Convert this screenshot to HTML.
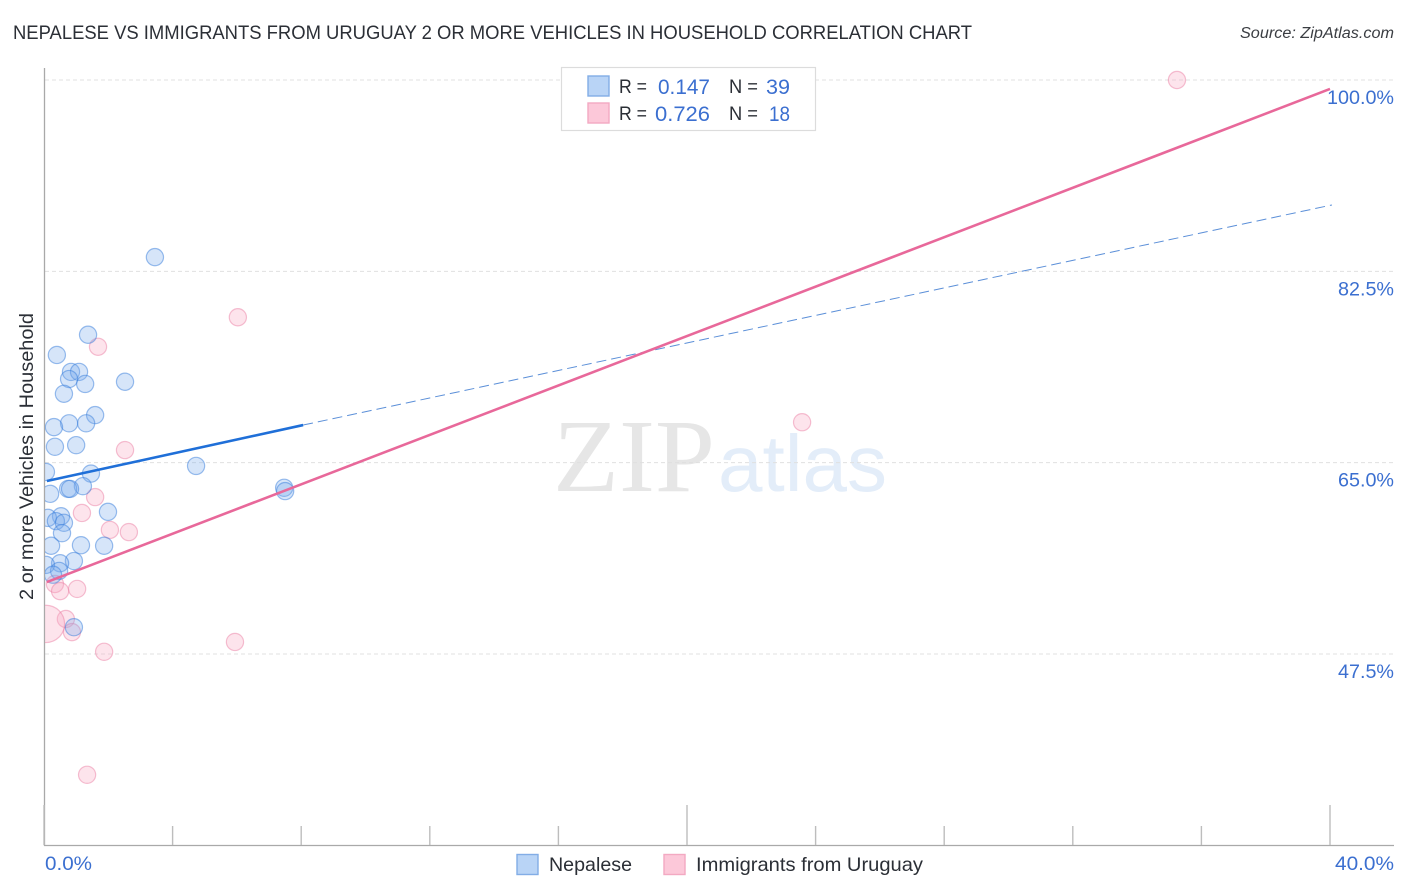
<!DOCTYPE html>
<html lang="en">
<head>
<meta charset="utf-8">
<title>Nepalese vs Immigrants from Uruguay correlation chart</title>
<style>
html,body{margin:0;padding:0;background:#fff;width:1406px;height:892px;overflow:hidden}
svg{display:block;font-family:"Liberation Sans",sans-serif}
</style>
</head>
<body>
<svg id="chart" xmlns="http://www.w3.org/2000/svg" width="1406" height="892" viewBox="0 0 1406 892">
  <defs><clipPath id="plot-clip"><rect x="45" y="60" width="1349" height="785"/></clipPath></defs>
  <text x="13" y="39" font-size="19.5" fill="#2b2f36" textLength="959" lengthAdjust="spacingAndGlyphs">NEPALESE VS IMMIGRANTS FROM URUGUAY 2 OR MORE VEHICLES IN HOUSEHOLD CORRELATION CHART</text>
  <text x="1394" y="38" font-size="15.5" font-style="italic" fill="#3a3d42" text-anchor="end" textLength="154" lengthAdjust="spacingAndGlyphs">Source: ZipAtlas.com</text>
  <g>
    <text x="553" y="491" font-family="'Liberation Serif',serif" font-size="104" fill="#e6e6e6" textLength="162" lengthAdjust="spacingAndGlyphs">ZIP</text>
    <text x="718" y="491" font-family="'Liberation Sans',sans-serif" font-size="80" fill="#e3edf9" textLength="169" lengthAdjust="spacingAndGlyphs">atlas</text>
  </g>
  <g id="grid"></g>
  <g id="axes"></g>
  <g id="points" clip-path="url(#plot-clip)"></g>
  <g id="trends"></g>
  <g id="ticks"></g>
  <g>
    <rect x="561.5" y="67.5" width="254" height="63" fill="#fff" stroke="#dcdcdc" stroke-width="1.2"/>
    <rect x="588" y="76" width="21" height="20" fill="#b9d4f6" stroke="#82ade6" stroke-width="1.4"/>
    <rect x="588" y="103" width="21" height="20" fill="#fcc8d9" stroke="#f3a9c2" stroke-width="1.4"/>
    <g font-size="19.5" fill="#2b2f36">
      <text x="619" y="93" textLength="28" lengthAdjust="spacingAndGlyphs">R =</text>
      <text x="729" y="93" textLength="29" lengthAdjust="spacingAndGlyphs">N =</text>
      <text x="619" y="120" textLength="28" lengthAdjust="spacingAndGlyphs">R =</text>
      <text x="729" y="120" textLength="29" lengthAdjust="spacingAndGlyphs">N =</text>
    </g>
    <g font-size="21" fill="#3b6fd0" text-anchor="end">
      <text x="710" y="94" textLength="52" lengthAdjust="spacingAndGlyphs">0.147</text>
      <text x="790" y="94" textLength="24" lengthAdjust="spacingAndGlyphs">39</text>
      <text x="710" y="121" textLength="55" lengthAdjust="spacingAndGlyphs">0.726</text>
      <text x="790" y="121" textLength="21" lengthAdjust="spacingAndGlyphs">18</text>
    </g>
  </g>
  <g>
    <rect x="517" y="854.5" width="21" height="20" fill="#b9d4f6" stroke="#82ade6" stroke-width="1.4"/>
    <text x="549" y="871" font-size="19.5" fill="#2b2f36" textLength="83" lengthAdjust="spacingAndGlyphs">Nepalese</text>
    <rect x="664" y="854.5" width="21" height="20" fill="#fcc8d9" stroke="#f3a9c2" stroke-width="1.4"/>
    <text x="696" y="871" font-size="19.5" fill="#2b2f36" textLength="227" lengthAdjust="spacingAndGlyphs">Immigrants from Uruguay</text>
  </g>
  <text transform="translate(33,456.5) rotate(-90)" font-size="19.5" fill="#2b2f36" text-anchor="middle" textLength="287" lengthAdjust="spacingAndGlyphs">2 or more Vehicles in Household</text>
</svg>
<script>
const blueX = [3.45,1.37,0.40,0.84,1.09,0.78,1.28,0.62,2.52,1.59,1.31,0.78,0.31,0.34,1.00,4.73,0.06,1.46,1.21,0.75,0.81,0.19,1.99,0.53,0.12,0.37,0.62,0.56,0.22,1.15,1.87,0.93,0.50,0.06,0.47,0.28,0.93,7.47,7.50];
const blueY = [83.8,76.7,74.85,73.3,73.3,72.65,72.2,71.3,72.4,69.35,68.6,68.6,68.25,66.45,66.6,64.7,64.15,64.0,62.85,62.6,62.6,62.15,60.5,60.1,59.95,59.65,59.5,58.55,57.4,57.45,57.4,56.0,55.8,55.65,55.1,54.75,49.95,62.7,62.4];
const pinkX = [35.24,6.03,1.68,23.58,2.52,1.59,1.18,2.05,2.64,0.34,0.50,1.03,0.68,0.87,5.94,1.87,1.34,0.06];
const pinkY = [100,78.3,75.6,68.7,66.15,61.85,60.4,58.85,58.65,53.9,53.25,53.45,50.7,49.5,48.6,47.7,36.45,50.25];
const pinkWeight = [1,1,1,1,1,1,1,1,1,1,1,1,1,1,1,1,1,4.7];
const blueTrendX = [0.09,8.06,40.06];
const blueTrendY = [63.32,68.44,88.57];
const pinkTrendX = [0.09,40];
const pinkTrendY = [54.08,99.18];
const yTicks = [100,82.5,65,47.5];
const yTickLabels = ["100.0%","82.5%","65.0%","47.5%"];
const xTicks = [0,4,8,12,16,20,24,28,32,36,40];
const xMajorTicks = [0,20,40];
const xEndTicks = [0,40];
const xEndLabels = ["0.0%","40.0%"];

const NS = "http://www.w3.org/2000/svg";
const sx = v => 44 + v * 32.15;
const sy = v => 80 + (100 - v) * 10.933;
function mk(parent, tag, attrs, text) {
  const el = document.createElementNS(NS, tag);
  for (const k in attrs) el.setAttribute(k, attrs[k]);
  if (text !== undefined) el.textContent = text;
  document.getElementById(parent).appendChild(el);
  return el;
}

yTicks.forEach((t, i) => {
  const g = mk("grid", "line", {x1: 45, x2: 1394, y1: sy(t), y2: sy(t), stroke: "#e0e0e0", "stroke-width": 1, "stroke-dasharray": "4 3"});
  
  
  const l = mk("ticks", "text", {x: 1394, y: sy(t) + 24, "font-size": 19.5, fill: "#3b6fd0", "text-anchor": "end", textLength: yTickLabels[i].length * 11 + 1, lengthAdjust: "spacingAndGlyphs"}, yTickLabels[i]);
  
  
});

const yAxis = mk("axes", "line", {x1: 44.5, x2: 44.5, y1: 68, y2: 846, stroke: "#a9a9a9", "stroke-width": 1.3});


const xAxis = mk("axes", "line", {x1: 44, x2: 1394, y1: 845.5, y2: 845.5, stroke: "#a9a9a9", "stroke-width": 1.3});


xTicks.forEach(t => {
  const top = xMajorTicks.includes(t) ? 805 : 826;
  const k = mk("axes", "line", {x1: sx(t), x2: sx(t), y1: top, y2: 845, stroke: "#bdbdbd", "stroke-width": 1.4});
  
  
});
xEndTicks.forEach((t, i) => {
  const l = mk("ticks", "text", {x: i === 0 ? sx(t) + 1 : 1394, y: 870, "font-size": 19.5, fill: "#3b6fd0", "text-anchor": i === 0 ? "start" : "end", textLength: i === 0 ? 47 : 59, lengthAdjust: "spacingAndGlyphs"}, xEndLabels[i]);
  
  
});

pinkX.forEach((x, i) => {
  const c = mk("points", "circle", {cx: sx(x), cy: sy(pinkY[i]), r: 8.6 * Math.sqrt(pinkWeight[i]), fill: "rgba(248,170,196,0.32)", stroke: "rgba(236,130,165,0.5)", "stroke-width": 1.2});
  
  
});
blueX.forEach((x, i) => {
  const c = mk("points", "circle", {cx: sx(x), cy: sy(blueY[i]), r: 8.6, fill: "rgba(120,170,235,0.3)", stroke: "rgba(55,125,220,0.5)", "stroke-width": 1.2});
  
  
});

const blueDash = mk("trends", "line", {x1: sx(blueTrendX[1]), y1: sy(blueTrendY[1]), x2: sx(blueTrendX[2]), y2: sy(blueTrendY[2]), stroke: "#5b8fd8", "stroke-width": 1, "stroke-dasharray": "10 5"});


const blueSolid = mk("trends", "line", {x1: sx(blueTrendX[0]), y1: sy(blueTrendY[0]), x2: sx(blueTrendX[1]), y2: sy(blueTrendY[1]), stroke: "#1f6fd8", "stroke-width": 2.6});


const pinkLine = mk("trends", "line", {x1: sx(pinkTrendX[0]), y1: sy(pinkTrendY[0]), x2: sx(pinkTrendX[1]), y2: sy(pinkTrendY[1]), stroke: "#e8689a", "stroke-width": 2.6});


</script>
</body>
</html>
